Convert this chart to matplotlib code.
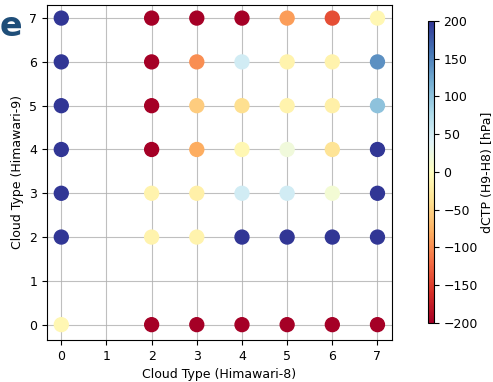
import numpy as np
import matplotlib
matplotlib.use("Agg")
from matplotlib import pyplot as plt

# cloud type pairs (Himawari-8, Himawari-9) and dCTP values
h8_types = [0, 2, 3, 4, 5, 6, 7]
h9_types = [7, 6, 5, 4, 3, 2, 0]
dctp = [
    [200, -200, -200, -200, -90, -140, -10],   # H9 = 7
    [200, -200, -100, 50, -15, -15, 140],       # H9 = 6
    [200, -200, -55, -40, -15, -20, 100],       # H9 = 5
    [200, -200, -80, -10, 20, -35, 200],        # H9 = 4
    [200, -15, -20, 50, 50, 15, 200],           # H9 = 3
    [200, -15, -15, 200, 200, 200, 200],        # H9 = 2
    [-10, -200, -200, -200, -200, -200, -200],  # H9 = 0
]

xs, ys, cs = [], [], []
for j, yv in enumerate(h9_types):
    for i, xv in enumerate(h8_types):
        xs.append(xv)
        ys.append(yv)
        cs.append(dctp[j][i])

plt.rcParams['font.size'] = 9
fig = plt.figure(figsize=(4.93, 3.82), dpi=100)
ax = fig.add_axes([0.095, 0.11, 0.70, 0.877])
cax = fig.add_axes([0.868, 0.155, 0.012, 0.79])

sc = ax.scatter(xs, ys, c=cs, cmap='RdYlBu', vmin=-200, vmax=200, s=100, zorder=2)
ax.set_xticks(range(8))
ax.set_yticks(range(8))
ax.set_xlim(-0.32, 7.32)
ax.set_ylim(-0.35, 7.3)
ax.grid(True, zorder=0)
for gl in ax.get_xgridlines() + ax.get_ygridlines():
    gl.set_zorder(3)
    gl.set_alpha(0.8)
ax.set_xlabel("Cloud Type (Himawari-8)")
ax.set_ylabel("Cloud Type (Himawari-9)")

cb = fig.colorbar(sc, cax=cax)
cb.set_label("dCTP (H9-H8) [hPa]", labelpad=2)
cb.set_ticks(np.arange(-200, 201, 50))

fig.text(0.0, 0.93, "e", fontsize=24, fontweight='bold', color='#1f4e79', va='center')

fig.savefig("out.png", dpi=100)
